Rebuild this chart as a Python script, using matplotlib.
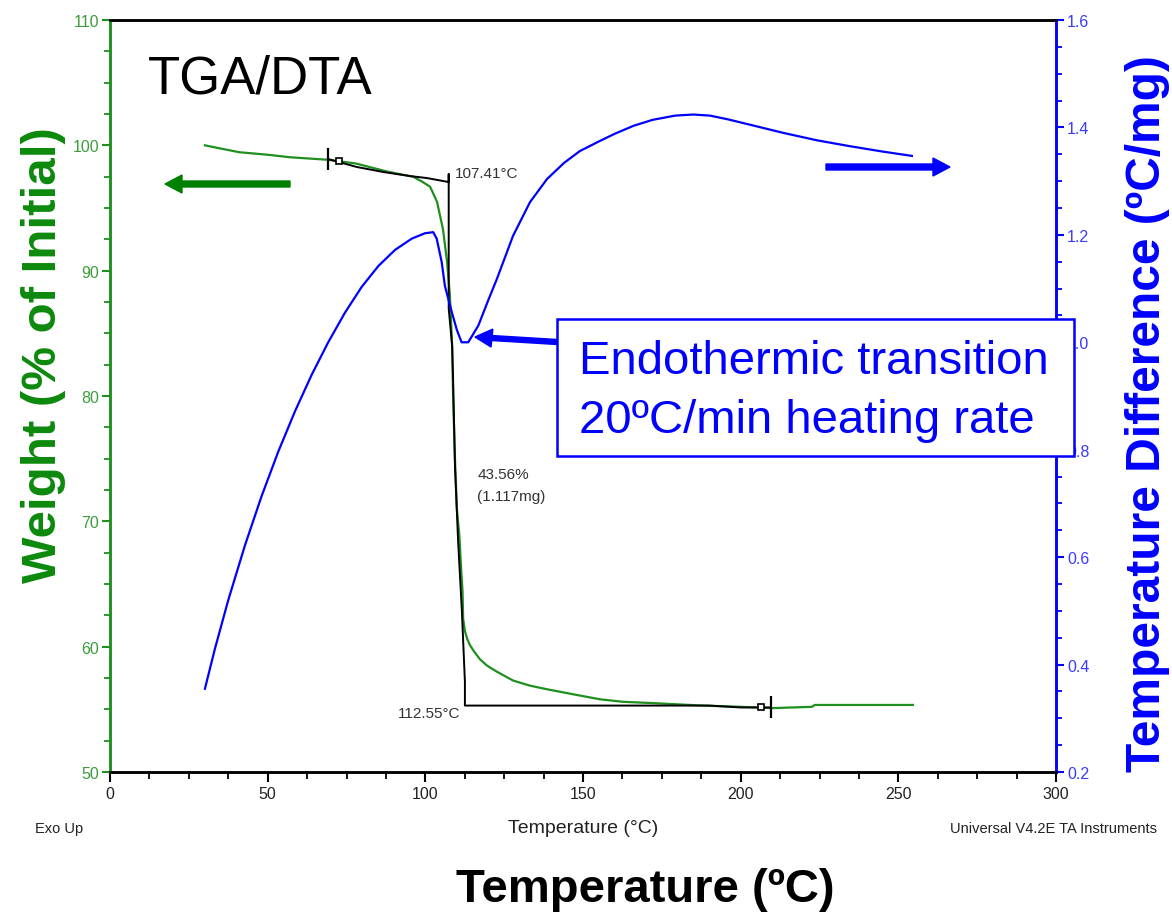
import matplotlib
matplotlib.use("Agg")
import matplotlib.pyplot as plt
from matplotlib.patches import Rectangle, FancyArrow
from matplotlib.ticker import MultipleLocator

plt.rcParams['font.family'] = ['Liberation Sans', 'DejaVu Sans']

# ---------------- data ----------------
tga_temp = [30.1, 35, 41, 50, 57, 69, 78, 88, 94, 96.1, 99, 101.5, 103.7, 105.6,
            106.9, 107.8, 108.5, 108.8, 109.4, 110.0, 110.8, 111.4, 111.8, 112.0,
            112.6, 113.3, 114.2, 115.5, 117.3, 119.5, 122.7, 127.8, 133.0, 138.6,
            149.0, 155.4, 162.7, 171.9, 188.0, 200.0, 210.3, 222.6, 223.5, 254.6]
tga_weight = [100.0, 99.75, 99.45, 99.25, 99.05, 98.85, 98.55, 97.9, 97.6, 97.5,
              97.1, 96.7, 95.5, 93.3, 90.7, 88.0, 84.0, 80.0, 75.0, 71.0, 68.8,
              66.0, 64.4, 62.2, 61.2, 60.6, 60.1, 59.6, 59.0, 58.5, 58.0, 57.3,
              56.9, 56.6, 56.1, 55.8, 55.6, 55.5, 55.3, 55.2, 55.1, 55.2, 55.35, 55.35]

dta_temp = [30.1, 33.3, 37.5, 42.8, 48.1, 53.4, 58.7, 64.0, 69.2, 74.5, 79.8, 85.1,
            90.4, 95.7, 99.9, 102.5, 103.6, 105.2, 106.2, 108.4, 110.0, 111.5,
            113.6, 116.8, 120.0, 122.7, 127.8, 133.2, 138.6, 144.0, 149.0, 155.4,
            160.0, 166.0, 172.0, 179.2, 185.0, 190.3, 196.0, 203.0, 213.4, 224.2,
            234.7, 245.1, 254.3]
dta_diff = [0.355, 0.430, 0.520, 0.622, 0.714, 0.797, 0.872, 0.940, 1.000, 1.055,
            1.103, 1.142, 1.172, 1.193, 1.203, 1.205, 1.193, 1.149, 1.105, 1.056,
            1.023, 1.000, 1.000, 1.031, 1.079, 1.118, 1.198, 1.261, 1.304, 1.334,
            1.356, 1.375, 1.388, 1.403, 1.414, 1.422, 1.424, 1.422, 1.415, 1.405,
            1.390, 1.376, 1.365, 1.355, 1.347]

# step-analysis construction line (black)
step_temp = [69.1, 78.3, 86.7, 95.1, 100.5, 107.2, 107.41, 107.41, 107.41, 108.5,
             108.8, 109.4, 110.4, 111.6, 112.55, 112.55, 150.0, 190.0, 200.0, 209.5]
step_weight = [98.91, 98.27, 97.87, 97.55, 97.39, 97.08, 97.08, 97.7, 87.0, 84.0,
               81.4, 74.4, 68.4, 62.8, 57.2, 55.3, 55.3, 55.3, 55.15, 55.15]

x_ticks = [0, 50, 100, 150, 200, 250, 300]
w_ticks = [50, 60, 70, 80, 90, 100, 110]
d_ticks = [0.2, 0.4, 0.6, 0.8, 1.0, 1.2, 1.4, 1.6]

W, H = 1172, 920
def fx(x): return x / W
def fy(y): return 1 - y / H

GREEN = '#1f8f1f'
GREEN_LBL = '#0c8a0c'
BLUE = '#0000ff'

fig = plt.figure(figsize=(11.72, 9.2), dpi=100)
ax1 = fig.add_axes([110 / W, (H - 773) / H, 946 / W, 752 / H])
ax2 = ax1.twinx()

# curves
ax1.plot(tga_temp, tga_weight, color=GREEN, lw=1.6, zorder=2)
ax1.plot(step_temp, step_weight, color='black', lw=1.4, zorder=3)
ax1.plot([step_temp[0], step_temp[-1]], [step_weight[0], step_weight[-1]],
         ls='none', marker='|', ms=16, mew=1.6, color='black', zorder=3)
ax1.plot([72.5, 206.5], [98.72, 55.2], ls='none', marker='s', ms=4,
         mfc='white', mec='black', mew=1.2, zorder=3)
ax2.plot(dta_temp, dta_diff, color=BLUE, lw=1.6, zorder=2)

# limits / ticks
ax1.set_xlim(0, 300)
ax1.set_ylim(50, 110)
ax2.set_ylim(0.2, 1.6)
ax1.set_xticks(x_ticks)
ax1.set_xticklabels([str(v) for v in x_ticks])
ax1.xaxis.set_minor_locator(MultipleLocator(12.5))
ax1.set_yticks(w_ticks)
ax1.set_yticklabels([str(v) for v in w_ticks])
ax1.yaxis.set_minor_locator(MultipleLocator(2.5))
ax2.set_yticks(d_ticks)
ax2.set_yticklabels([f"{v:.1f}" for v in d_ticks])
ax2.yaxis.set_minor_locator(MultipleLocator(0.05))

for ax in (ax1, ax2):
    for s in ax.spines.values():
        s.set_linewidth(1.8)
    ax.spines['top'].set_color('black')
    ax.spines['bottom'].set_color('black')
    ax.spines['left'].set_color(GREEN)
    ax.spines['right'].set_color(BLUE)

ax1.tick_params(axis='x', which='major', direction='out', length=7, width=1.5,
                colors='black', labelcolor='#222222', labelsize=11.5, pad=3)
ax1.tick_params(axis='x', which='minor', direction='out', length=5, width=1.3, colors='black')
ax1.tick_params(axis='y', which='major', direction='out', length=6, width=1.5,
                colors=GREEN, labelcolor='#3c9c3c', labelsize=11.5, pad=2)
ax1.tick_params(axis='y', which='minor', direction='out', length=4, width=1.3, colors=GREEN)
ax2.tick_params(axis='y', which='major', direction='out', length=6, width=1.5,
                colors=BLUE, labelcolor='#3a3aff', labelsize=11.5, pad=2)
ax2.tick_params(axis='y', which='minor', direction='out', length=4, width=1.3, colors=BLUE)

# annotations from the instrument software
ax1.text(107.41 + 1.8, 97.8, "107.41°C", fontsize=11, color='#333333', va='center', ha='left')
ax1.text(116.5, 73.8, "43.56%", fontsize=11, color='#333333', va='center', ha='left')
ax1.text(116.5, 72.05, "(1.117mg)", fontsize=11, color='#333333', va='center', ha='left')
ax1.text(111.2, 54.7, "112.55°C", fontsize=11, color='#333333', va='center', ha='right')

fig.text(fx(148), fy(80), "TGA/DTA", fontsize=38, color='black', ha='left', va='center')

# big axis labels
fig.text(fx(44), fy(355), "Weight (% of Initial)", fontsize=35.5, fontweight='bold',
         color=GREEN_LBL, rotation=90, ha='center', va='center')
fig.text(fx(1148), fy(414), "Temperature Difference (ºC/mg)", fontsize=34.5, fontweight='bold',
         color=BLUE, rotation=90, ha='center', va='center')
fig.text(fx(645), fy(890), "Temperature (ºC)", fontsize=34, fontweight='bold',
         color='black', ha='center', va='center')

# small footer texts
fig.text(fx(35), fy(829), "Exo Up", fontsize=10.5, color='#222222', ha='left', va='center')
fig.text(fx(583), fy(829), "Temperature (°C)", fontsize=14, color='#222222', ha='center', va='center')
fig.text(fx(1157), fy(829), "Universal V4.2E TA Instruments", fontsize=10.5, color='#222222',
         ha='right', va='center')

# direction arrows
fig.add_artist(FancyArrow(
    fx(290), fy(185), fx(165) - fx(290), 0, width=6 / H, head_width=18 / H,
    head_length=17 / W, length_includes_head=True, color='#008000',
    transform=fig.transFigure))
fig.add_artist(FancyArrow(
    fx(826), fy(168), fx(950) - fx(826), 0, width=6 / H, head_width=18 / H,
    head_length=17 / W, length_includes_head=True, color=BLUE,
    transform=fig.transFigure))

# annotation box
box = Rectangle((fx(557), fy(457)), fx(1074) - fx(557), fy(320) - fy(457),
                transform=fig.transFigure, facecolor='white', edgecolor=BLUE,
                lw=1.8, zorder=20)
fig.add_artist(box)
fig.add_artist(FancyArrow(
    fx(557), fy(343), fx(475) - fx(557), fy(338) - fy(343), width=5 / H,
    head_width=18 / H, head_length=17 / W, length_includes_head=True,
    color=BLUE, transform=fig.transFigure, zorder=21))
fig.text(fx(579), fy(362), "Endothermic transition", fontsize=34, color=BLUE,
         ha='left', va='center', zorder=22)
fig.text(fx(579), fy(421), "20ºC/min heating rate", fontsize=34, color=BLUE,
         ha='left', va='center', zorder=22)

fig.savefig("out.png", dpi=100, facecolor='white')
